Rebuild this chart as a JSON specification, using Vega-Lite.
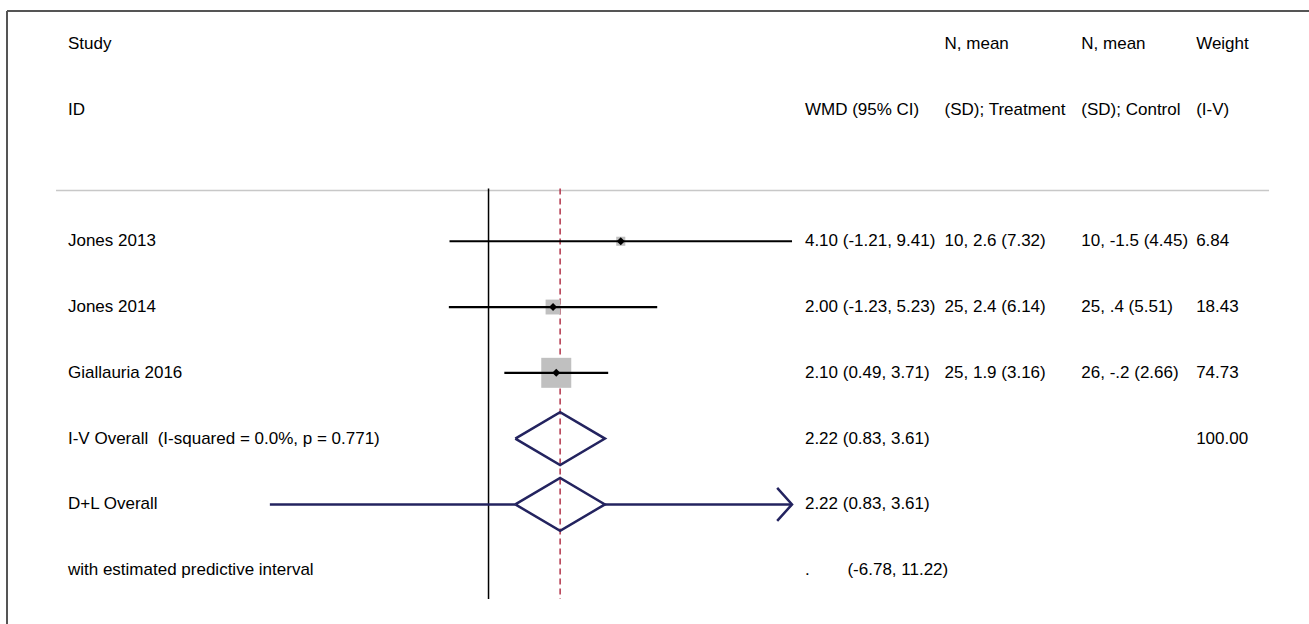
{
  "$schema": "https://vega.github.io/schema/vega-lite/v6.json",
  "width": 1309,
  "height": 624,
  "autosize": {"type": "fit", "contains": "padding"},
  "padding": {"left": 6, "top": 10, "right": -2, "bottom": -2},
  "background": "white",
  "config": {
    "view": {"stroke": null},
    "text": {"font": "Liberation Sans", "fontSize": 17, "color": "#000000"}
  },
  "datasets": {
    "studies": [
      {"row": "Jones 2013", "est": 4.10, "lo": -1.21, "hi": 9.41, "weight": 6.84},
      {"row": "Jones 2014", "est": 2.00, "lo": -1.23, "hi": 5.23, "weight": 18.43},
      {"row": "Giallauria 2016", "est": 2.10, "lo": 0.49, "hi": 3.71, "weight": 74.73}
    ],
    "pooled": [
      {"row": "I-V Overall", "est": 2.22, "lo": 0.83, "hi": 3.61},
      {"row": "D+L Overall", "est": 2.22, "lo": 0.83, "hi": 3.61, "pi_lo": -6.78, "pi_hi": 11.22}
    ],
    "diamonds": [
      {"row": "I-V Overall", "k": 1, "vertex": "mid", "x": 0.83},
      {"row": "I-V Overall", "k": 2, "vertex": "top", "x": 2.22},
      {"row": "I-V Overall", "k": 3, "vertex": "mid", "x": 3.61},
      {"row": "I-V Overall", "k": 4, "vertex": "bottom", "x": 2.22},
      {"row": "I-V Overall", "k": 5, "vertex": "mid", "x": 0.83},
      {"row": "D+L Overall", "k": 1, "vertex": "mid", "x": 0.83},
      {"row": "D+L Overall", "k": 2, "vertex": "top", "x": 2.22},
      {"row": "D+L Overall", "k": 3, "vertex": "mid", "x": 3.61},
      {"row": "D+L Overall", "k": 4, "vertex": "bottom", "x": 2.22},
      {"row": "D+L Overall", "k": 5, "vertex": "mid", "x": 0.83}
    ],
    "table": [
      {"row": "h1", "label": "Study", "wmd": "", "treat": "N, mean", "ctrl": "N, mean", "wt": "Weight"},
      {"row": "h2", "label": "ID", "wmd": "WMD (95% CI)", "treat": "(SD); Treatment", "ctrl": "(SD); Control", "wt": "(I-V)"},
      {"row": "Jones 2013", "label": "Jones 2013", "wmd": "4.10 (-1.21, 9.41)", "treat": "10, 2.6 (7.32)", "ctrl": "10, -1.5 (4.45)", "wt": "6.84"},
      {"row": "Jones 2014", "label": "Jones 2014", "wmd": "2.00 (-1.23, 5.23)", "treat": "25, 2.4 (6.14)", "ctrl": "25, .4 (5.51)", "wt": "18.43"},
      {"row": "Giallauria 2016", "label": "Giallauria 2016", "wmd": "2.10 (0.49, 3.71)", "treat": "25, 1.9 (3.16)", "ctrl": "26, -.2 (2.66)", "wt": "74.73"},
      {"row": "I-V Overall", "label": "I-V Overall\u00a0 (I-squared = 0.0%, p = 0.771)", "wmd": "2.22 (0.83, 3.61)", "treat": "", "ctrl": "", "wt": "100.00"},
      {"row": "D+L Overall", "label": "D+L Overall", "wmd": "2.22 (0.83, 3.61)", "treat": "", "ctrl": "", "wt": ""},
      {"row": "PI", "label": "with estimated predictive interval", "wmd": ".\u00a0\u00a0\u00a0\u00a0\u00a0\u00a0\u00a0 (-6.78, 11.22)", "treat": "", "ctrl": "", "wt": ""}
    ]
  },
  "layer": [
    {
      "data": {"name": "pooled"},
      "transform": [{"filter": "datum.row == 'I-V Overall'"}],
      "mark": {"type": "rule", "color": "#c8c8c8", "strokeWidth": 1.5},
      "encoding": {
        "x": {"datum": -13.41, "type": "quantitative", "axis": null, "scale": {"domain": [-14.93, 25.47], "nice": false, "zero": false}},
        "x2": {"datum": 24.2},
        "y": {"datum": "gap", "type": "nominal", "bandPosition": 0.73, "axis": null,
              "scale": {"domain": ["h1", "h2", "gap", "Jones 2013", "Jones 2014", "Giallauria 2016", "I-V Overall", "D+L Overall", "PI"], "paddingInner": 0, "paddingOuter": 0.1667, "align": 0}}
      }
    },
    {
      "data": {"name": "pooled"},
      "transform": [{"filter": "datum.row == 'I-V Overall'"}],
      "mark": {"type": "rule", "color": "#555555", "strokeWidth": 2},
      "encoding": {
        "y": {"datum": "h1", "type": "nominal", "bandPosition": 0}
      }
    },
    {
      "data": {"name": "pooled"},
      "transform": [{"filter": "datum.row == 'I-V Overall'"}],
      "mark": {"type": "rule", "color": "#555555", "strokeWidth": 2},
      "encoding": {
        "x": {"datum": -14.93, "type": "quantitative"}
      }
    },
    {
      "data": {"name": "pooled"},
      "transform": [{"filter": "datum.row == 'I-V Overall'"}],
      "mark": {"type": "rule", "color": "#000000", "strokeWidth": 1.5},
      "encoding": {
        "x": {"datum": 0, "type": "quantitative"},
        "y": {"datum": "gap", "type": "nominal", "bandPosition": 0.7},
        "y2": {"datum": "PI", "bandPosition": 0.94}
      }
    },
    {
      "data": {"name": "pooled"},
      "transform": [{"filter": "datum.row == 'I-V Overall'"}],
      "mark": {"type": "rule", "color": "#b3344a", "strokeWidth": 1.5, "strokeDash": [6, 4]},
      "encoding": {
        "x": {"field": "est", "type": "quantitative"},
        "y": {"datum": "gap", "type": "nominal", "bandPosition": 0.7},
        "y2": {"datum": "PI", "bandPosition": 0.94}
      }
    },
    {
      "data": {"name": "studies"},
      "mark": {"type": "point", "shape": "square", "filled": true, "color": "#c0c0c0", "opacity": 1},
      "encoding": {
        "x": {"field": "est", "type": "quantitative"},
        "y": {"field": "row", "type": "nominal"},
        "size": {"field": "weight", "type": "quantitative", "legend": null, "scale": {"zero": true, "range": [0, 900]}}
      }
    },
    {
      "data": {"name": "studies"},
      "mark": {"type": "rule", "color": "#000000", "strokeWidth": 2.2},
      "encoding": {
        "x": {"field": "lo", "type": "quantitative"},
        "x2": {"field": "hi"},
        "y": {"field": "row", "type": "nominal"}
      }
    },
    {
      "data": {"name": "studies"},
      "mark": {"type": "point", "shape": "diamond", "filled": true, "color": "#000000", "size": 64, "opacity": 1},
      "encoding": {
        "x": {"field": "est", "type": "quantitative"},
        "y": {"field": "row", "type": "nominal"}
      }
    },
    {
      "data": {"name": "pooled"},
      "transform": [{"filter": "datum.row == 'D+L Overall'"}],
      "mark": {"type": "rule", "color": "#23235f", "strokeWidth": 2.5},
      "encoding": {
        "x": {"field": "pi_lo", "type": "quantitative"},
        "x2": {"field": "lo"},
        "y": {"field": "row", "type": "nominal"}
      }
    },
    {
      "data": {"name": "pooled"},
      "transform": [{"filter": "datum.row == 'D+L Overall'"}],
      "mark": {"type": "rule", "color": "#23235f", "strokeWidth": 2.5},
      "encoding": {
        "x": {"field": "hi", "type": "quantitative"},
        "x2": {"datum": 9.41},
        "y": {"field": "row", "type": "nominal"}
      }
    },
    {
      "data": {"name": "pooled"},
      "transform": [{"filter": "datum.row == 'D+L Overall'"}],
      "mark": {"type": "point", "shape": "M-0.9,-1L0,0L-0.9,1", "filled": false, "color": "#23235f", "strokeWidth": 2.5, "size": 1089, "opacity": 1},
      "encoding": {
        "x": {"datum": 9.41, "type": "quantitative"},
        "y": {"field": "row", "type": "nominal"}
      }
    },
    {
      "data": {"name": "diamonds"},
      "mark": {"type": "line", "color": "#23235f", "strokeWidth": 2.5, "strokeJoin": "miter"},
      "encoding": {
        "x": {"field": "x", "type": "quantitative"},
        "y": {"field": "row", "type": "nominal"},
        "yOffset": {"field": "vertex", "type": "nominal", "scale": {"type": "point", "domain": ["top", "mid", "bottom"], "padding": 0.245}},
        "detail": {"field": "row"},
        "order": {"field": "k", "type": "quantitative"}
      }
    },
    {
      "data": {"name": "table"},
      "mark": {"type": "text", "align": "left", "baseline": "middle"},
      "encoding": {
        "x": {"datum": -13.04, "type": "quantitative"},
        "y": {"field": "row", "type": "nominal"},
        "text": {"field": "label"}
      }
    },
    {
      "data": {"name": "table"},
      "mark": {"type": "text", "align": "left", "baseline": "middle"},
      "encoding": {
        "x": {"datum": 9.81, "type": "quantitative"},
        "y": {"field": "row", "type": "nominal"},
        "text": {"field": "wmd"}
      }
    },
    {
      "data": {"name": "table"},
      "mark": {"type": "text", "align": "left", "baseline": "middle"},
      "encoding": {
        "x": {"datum": 14.14, "type": "quantitative"},
        "y": {"field": "row", "type": "nominal"},
        "text": {"field": "treat"}
      }
    },
    {
      "data": {"name": "table"},
      "mark": {"type": "text", "align": "left", "baseline": "middle"},
      "encoding": {
        "x": {"datum": 18.38, "type": "quantitative"},
        "y": {"field": "row", "type": "nominal"},
        "text": {"field": "ctrl"}
      }
    },
    {
      "data": {"name": "table"},
      "mark": {"type": "text", "align": "left", "baseline": "middle"},
      "encoding": {
        "x": {"datum": 21.94, "type": "quantitative"},
        "y": {"field": "row", "type": "nominal"},
        "text": {"field": "wt"}
      }
    }
  ]
}
